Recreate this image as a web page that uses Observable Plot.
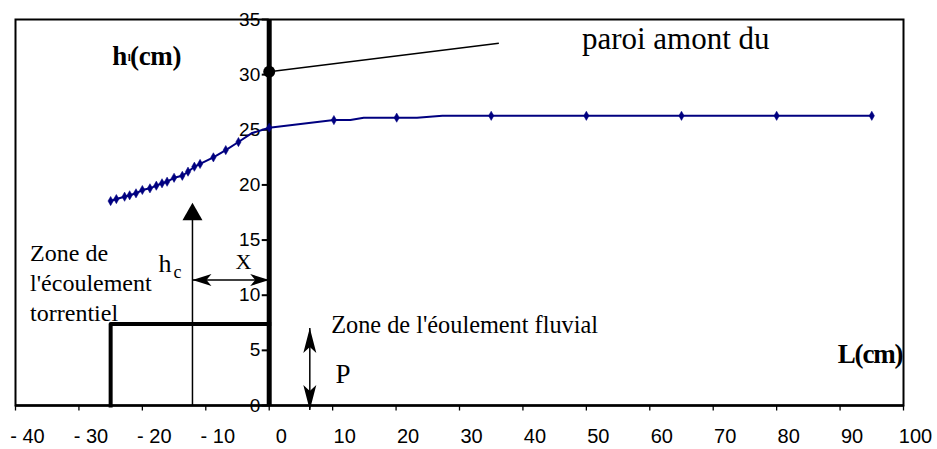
<!DOCTYPE html>
<html><head><meta charset="utf-8">
<script src="https://cdn.jsdelivr.net/npm/d3@7"></script>
<script src="https://cdn.jsdelivr.net/npm/@observablehq/plot@0.6"></script>
<style>body{margin:0;background:#fff}</style>
</head><body><div id="chart"></div>
<script>
// ---- data ----
const profileL = [-25.0, -24.1, -22.8, -22.0, -21.0, -20.0, -18.8, -17.8, -16.9, -16.1, -15.0, -13.7, -12.8, -11.8, -10.9, -8.8, -6.85, -4.85, -2.8, 0, 10.2, 12.8, 14.9, 20.1, 23.3, 27.3, 35, 50, 65, 80, 95];
const profileH = [18.54, 18.72, 18.93, 19.06, 19.24, 19.54, 19.69, 19.93, 20.15, 20.29, 20.65, 20.83, 21.2, 21.65, 21.9, 22.5, 23.16, 23.89, 24.68, 25.19, 25.88, 25.88, 26.1, 26.1, 26.1, 26.27, 26.27, 26.27, 26.27, 26.27, 26.27];
const profileMarked = [1,1,1,1,1,1,1,1,1,1,1,1,1,1,1,1,1,1,0,1,1,0,0,1,0,0,1,1,1,1,1];
const xTicks = [-40, -30, -20, -10, 0, 10, 20, 30, 40, 50, 60, 70, 80, 90, 100];
const yTicks = [0, 5, 10, 15, 20, 25, 30, 35];
const weirL = [-25, -25, 0];
const weirH = [0, 7.4, 7.4];
const wallPoint = {L: 0, h: 30.26};
const wallPointerEnd = {L: 36.2, h: 32.84};
const hcArrow = {L: -12.1, h1: 0, h2: 18.39};
const xArrow = {L1: -12.1, L2: 0, h: 11.38};
const pArrow = {L: 6.4, h1: -0.41, h2: 7.03};
const noteText = ["paroi amont du", "Zone de l'éoulement fluvial", "P", "X", "Zone de", "l'écoulement", "torrentiel"];
const noteL =    [49.3, 9.77, 10.45, -4.05, -37.7, -37.7, -37.7];
const noteH =    [32.29, 6.57, 2.01, 12.38, 13.1, 10.38, 7.66];

// ---- helpers ----
const serif = "Liberation Serif, Times New Roman, serif";
const sans = "Liberation Sans, Arial, sans-serif";
const navy = "#000080";
const idx = profileL.map((_, i) => i);
const fmtX = d => d < 0 ? "- " + (-d) : String(d);

function stealth(len, half, notch, dir) {
  // dir: 0 up, 1 down, 2 left, 3 right ; tip at origin
  const pts = [[0,0],[-half,len],[0,notch],[half,len]].map(([a,b]) =>
    dir === 0 ? [a, b] : dir === 1 ? [a, -b] : dir === 2 ? [b, a] : [-b, a]);
  return {draw(ctx) { ctx.moveTo(...pts[0]); for (let k = 1; k < pts.length; k++) ctx.lineTo(...pts[k]); ctx.closePath(); }};
}
const bigUp = {draw(ctx){ ctx.moveTo(0,0); ctx.lineTo(-10,17.5); ctx.lineTo(10,17.5); ctx.closePath(); }};

const chart = Plot.plot({
  width: 937, height: 449,
  marginLeft: 15, marginRight: 34, marginTop: 19, marginBottom: 44,
  x: {domain: [-40, 100], axis: null},
  y: {domain: [0, 35], axis: null},
  marks: [
    Plot.frame({stroke: "black", strokeWidth: 2}),
    Plot.ruleY([0], {stroke: "black", strokeWidth: 2.5}),
    Plot.ruleX(xTicks, {x: d => d, y1: 0, y2: -0.5, stroke: "black", strokeWidth: 1.3}),
    Plot.text(xTicks, {x: d => d, y: 0, text: fmtX, dx: 12, dy: 37.5, lineAnchor: "bottom", fontSize: 20, fontFamily: sans, fill: "black"}),
    Plot.ruleY(yTicks, {y: d => d, x1: -1.1, x2: 0, stroke: "black", strokeWidth: 2}),
    Plot.text(yTicks, {x: 0, y: d => d, text: d => String(d), dx: -9, textAnchor: "end", fontSize: 19, fontFamily: sans, fill: "black"}),
    // weir
    Plot.line(weirL.map((_, i) => i), {x: i => weirL[i], y: i => weirH[i], stroke: "black", strokeWidth: 4, strokeLinecap: "square"}),
    Plot.ruleX([0], {y1: 0, y2: 35, stroke: "black", strokeWidth: 5}),
    // water profile
    Plot.line(idx, {x: i => profileL[i], y: i => profileH[i], stroke: navy, strokeWidth: 2}),
    Plot.dot(idx.filter(i => profileMarked[i]), {x: i => profileL[i], y: i => profileH[i], symbol: "diamond", r: 2.8, fill: navy, stroke: navy, strokeWidth: 0.5}),
    // wall pointer
    Plot.link([wallPoint], {x1: d => d.L, y1: d => d.h, x2: () => wallPointerEnd.L, y2: () => wallPointerEnd.h, stroke: "black", strokeWidth: 1.5}),
    Plot.dot([wallPoint], {x: d => d.L, y: d => d.h, r: 6, fill: "black"}),
    // hc arrow
    Plot.link([hcArrow], {x1: d => d.L, y1: d => d.h1, x2: d => d.L, y2: d => d.h2 - 1, stroke: "black", strokeWidth: 1.5}),
    Plot.dot([hcArrow], {x: d => d.L, y: d => d.h2, symbol: bigUp, r: 5, fill: "black", stroke: "none"}),
    // X arrow
    Plot.link([xArrow], {x1: d => d.L1, y1: d => d.h, x2: d => d.L2, y2: d => d.h, stroke: "black", strokeWidth: 1.5}),
    Plot.dot([xArrow], {x: d => d.L1, y: d => d.h, symbol: stealth(19, 6, 14, 2), r: 5, fill: "black", stroke: "none"}),
    Plot.dot([xArrow], {x: d => d.L2, y: d => d.h, symbol: stealth(19, 6, 14, 3), r: 5, fill: "black", stroke: "none"}),
    // P arrow
    Plot.link([pArrow], {x1: d => d.L, y1: d => d.h1, x2: d => d.L, y2: d => d.h2, stroke: "black", strokeWidth: 1.5}),
    Plot.dot([pArrow], {x: d => d.L, y: d => d.h2, symbol: stealth(25, 6.5, 19, 0), r: 5, fill: "black", stroke: "none"}),
    Plot.dot([pArrow], {x: d => d.L, y: d => d.h1, symbol: stealth(25, 6.5, 19, 1), r: 5, fill: "black", stroke: "none"}),
    // text notes
    Plot.text([0], {x: () => noteL[0], y: () => noteH[0], text: () => noteText[0], textAnchor: "start", lineAnchor: "bottom", fontSize: 31, fontFamily: serif, fill: "black"}),
    Plot.text([1], {x: () => noteL[1], y: () => noteH[1], text: () => noteText[1], textAnchor: "start", lineAnchor: "bottom", fontSize: 24.3, fontFamily: serif, fill: "black"}),
    Plot.text([2], {x: () => noteL[2], y: () => noteH[2], text: () => noteText[2], textAnchor: "start", lineAnchor: "bottom", fontSize: 27, fontFamily: serif, fill: "black"}),
    Plot.text([3], {x: () => noteL[3], y: () => noteH[3], text: () => noteText[3], textAnchor: "middle", lineAnchor: "bottom", fontSize: 22, fontFamily: serif, fill: "black"}),
    Plot.text([4, 5, 6], {x: i => noteL[i], y: i => noteH[i], text: i => noteText[i], textAnchor: "start", lineAnchor: "bottom", fontSize: 24, fontFamily: serif, fill: "black"}),
    // h_c
    Plot.text(["h"], {x: () => -17.46, y: () => 12.1, text: d => d, textAnchor: "start", lineAnchor: "bottom", fontSize: 26, fontFamily: serif, fill: "black"}),
    Plot.text(["c"], {x: () => -15.1, y: () => 11.6, text: d => d, textAnchor: "start", lineAnchor: "bottom", fontSize: 18, fontFamily: serif, fill: "black"}),
    // axis titles
    Plot.text(["h"], {x: () => -24.75, y: () => 30.87, text: d => d, textAnchor: "start", lineAnchor: "bottom", fontSize: 27, fontWeight: "bold", fontFamily: serif, fill: "black"}),
    Plot.text(["l"], {x: () => -22.3, y: () => 31.2, text: d => d, textAnchor: "start", lineAnchor: "bottom", fontSize: 11, fontWeight: "bold", fontFamily: serif, fill: "black"}),
    Plot.text(["(cm)"], {x: () => -21.95, y: () => 30.87, text: d => d, textAnchor: "start", lineAnchor: "bottom", fontSize: 27, fontWeight: "bold", fontFamily: serif, fill: "black"}),
    Plot.text(["L(cm)"], {x: () => 89.64, y: () => 3.83, text: d => d, textAnchor: "start", lineAnchor: "bottom", fontSize: 27, fontWeight: "bold", fontFamily: serif, fill: "black"})
  ]
});
d3.select(chart).selectAll("text").filter(function(){ return this.textContent === "L(cm)"; }).attr("letter-spacing", -1.2);
d3.select(chart).selectAll("text").filter(function(){ return this.textContent === "(cm)"; }).attr("letter-spacing", -0.3);
document.getElementById("chart").appendChild(chart);
</script>
</body></html>
